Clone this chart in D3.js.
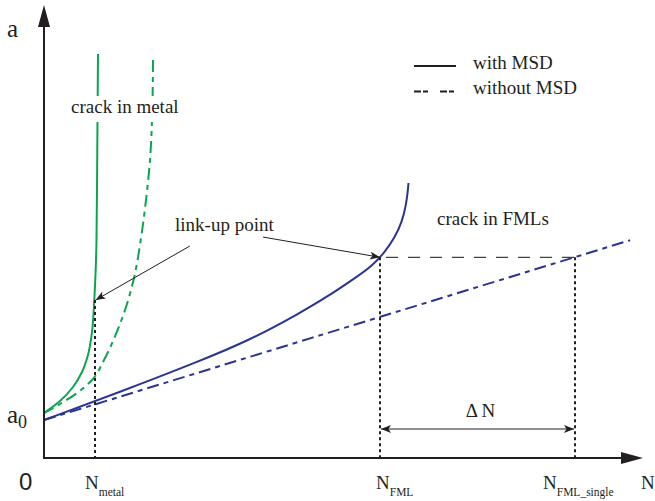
<!DOCTYPE html>
<html>
<head>
<meta charset="utf-8">
<script src="https://cdn.jsdelivr.net/npm/d3@7"></script>
<style>
  body { margin: 0; background: #fff; }
  svg { display: block; }
  text { font-family: "Liberation Serif", "Times New Roman", "DejaVu Serif", serif; fill: #231f20; }
</style>
</head>
<body>
<div id="viz"></div>
<script>
// crack length a vs. cycles N (schematic, arbitrary units 0-100)
var metalMsdN   = [0, 2.67, 4.83, 6.33, 7.33, 8.0, 8.33, 8.58, 8.75, 8.88, 9.0];
var metalMsdA   = [10, 12.67, 15.78, 19.11, 22.89, 28, 34, 40.67, 48.44, 68.44, 89.78];
var metalNoMsdN = [0, 2.67, 5.5, 8, 10, 12, 13.67, 15, 16.17, 17, 17.67, 18, 18.17];
var metalNoMsdA = [10, 12, 14.44, 17.33, 21.78, 27.56, 33.56, 40, 48.89, 57.33, 66.22, 75.11, 88.44];
var fmlMsdN     = [0, 12.67, 26, 34.33, 42.67, 47.67, 51.83, 54.67, 56.83, 58.5, 59.67, 60.33, 60.6, 60.75];
var fmlMsdA     = [8.44, 14.67, 21.56, 26.22, 32.22, 36.22, 40, 42.67, 45.78, 49.11, 52.44, 56.22, 58.9, 61.11];
var fmlNoMsdN   = [0, 50, 97.7];
var fmlNoMsdA   = [8.44, 28.9, 48.4];

var nMetal = 8.5, aMetalLink = 35.1;
var nFml = 56, nFmlSingle = 88.5, aFmlLink = 44.6;

var tickValues = [nMetal, nFml, nFmlSingle];
var tickMain = ['N', 'N', 'N'];
var tickSub = ['metal', 'FML', 'FML_single'];
var tickDx = [-10, -4, -32];   // layout offsets of the labels

var green = '#0aa550', blue = '#2a3491', ink = '#231f20';
var serif = '"Liberation Serif", "Times New Roman", "DejaVu Serif", serif';

var width = 655, height = 501;

var x = d3.scaleLinear().domain([0, 100]).range([44, 644]);
var y = d3.scaleLinear().domain([0, 100]).range([458, 8]);

var svg = d3.select('#viz').append('svg')
  .attr('width', width)
  .attr('height', height)
  .attr('font-family', serif);

var defs = svg.append('defs');
defs.append('marker')
  .attr('id', 'head')
  .attr('viewBox', '0 0 10 8')
  .attr('refX', 10).attr('refY', 4)
  .attr('markerWidth', 11).attr('markerHeight', 8)
  .attr('markerUnits', 'userSpaceOnUse')
  .attr('orient', 'auto-start-reverse')
  .append('path')
  .attr('d', 'M0,0L10,4L0,8L2.5,4Z')
  .attr('fill', ink);

function zip(ns, as) {
  return ns.map(function(n, i) { return [n, as[i]]; });
}

function makeLine(curve) {
  return d3.line()
    .x(function(d) { return x(d[0]); })
    .y(function(d) { return y(d[1]); })
    .curve(curve);
}
var lineX = makeLine(d3.curveMonotoneX);
var lineSmooth = makeLine(d3.curveBasis);
// metal curves are steep, so interpolate them along a instead
var lineY = makeLine(d3.curveMonotoneY);

var series = [
  { pts: zip(fmlNoMsdN, fmlNoMsdA), color: blue, dash: '12,5,5,5', gen: lineX },
  { pts: zip(fmlMsdN, fmlMsdA), color: blue, dash: null, gen: lineSmooth },
  { pts: zip(metalNoMsdN, metalNoMsdA).reverse(), color: green, dash: '12,5,5,5', gen: lineY },
  { pts: zip(metalMsdN, metalMsdA).reverse(), color: green, dash: null, gen: lineY }
];

svg.append('g').selectAll('path')
  .data(series)
  .enter().append('path')
    .attr('d', function(d) { return d.gen(d.pts); })
    .attr('fill', 'none')
    .attr('stroke', function(d) { return d.color; })
    .attr('stroke-width', 2)
    .attr('stroke-dasharray', function(d) { return d.dash; });

// white box behind "crack in metal" cuts the green lines
svg.append('rect')
  .attr('x', 69).attr('y', 96)
  .attr('width', 112).attr('height', 26)
  .attr('fill', '#fff');
svg.append('text')
  .attr('x', 71).attr('y', 113)
  .style('font-size', '19px')
  .text('crack in metal');

// vertical dotted guides
var guides = [[nMetal, aMetalLink], [nFml, aFmlLink], [nFmlSingle, aFmlLink]];
svg.append('g').selectAll('line')
  .data(guides)
  .enter().append('line')
    .attr('x1', function(d) { return x(d[0]); })
    .attr('x2', function(d) { return x(d[0]); })
    .attr('y1', function(d) { return y(d[1]); })
    .attr('y2', y(0) + 2)
    .attr('stroke', ink)
    .attr('stroke-width', 2)
    .attr('stroke-dasharray', '3,3');

// horizontal dashed link line
svg.append('line')
  .attr('x1', x(nFml) + 6).attr('x2', x(nFmlSingle))
  .attr('y1', y(aFmlLink)).attr('y2', y(aFmlLink))
  .attr('stroke', '#444')
  .attr('stroke-width', 1.2)
  .attr('stroke-dasharray', '12,10');

// axes
svg.append('line')
  .attr('x1', x(0)).attr('x2', x(0))
  .attr('y1', y(0) + 1).attr('y2', 27)
  .attr('stroke', ink).attr('stroke-width', 2);
svg.append('path')
  .attr('d', 'M' + x(0) + ',5L' + (x(0) - 6) + ',27L' + (x(0) + 6) + ',27Z')
  .attr('fill', ink);
svg.append('line')
  .attr('x1', x(0) - 1).attr('x2', x(100) - 22)
  .attr('y1', y(0)).attr('y2', y(0))
  .attr('stroke', ink).attr('stroke-width', 2);
svg.append('path')
  .attr('d', 'M' + (x(100) - 1) + ',' + y(0) + 'L' + (x(100) - 23) + ',' + (y(0) - 6) +
             'L' + (x(100) - 23) + ',' + (y(0) + 6) + 'Z')
  .attr('fill', ink);

// tick labels with subscripts
var ticks = svg.append('g').selectAll('text')
  .data(tickValues)
  .enter().append('text')
    .attr('x', function(d, i) { return x(d) + tickDx[i]; })
    .attr('y', 489)
    .style('font-size', '19px');
ticks.append('tspan').text(function(d, i) { return tickMain[i]; });
ticks.append('tspan')
  .attr('dy', 7)
  .style('font-size', '11.5px')
  .text(function(d, i) { return tickSub[i]; });

svg.append('text').attr('x', 641).attr('y', 489).style('font-size', '19px').text('N');
svg.append('text').attr('x', 19).attr('y', 490)
  .style('font-family', '"Liberation Sans", Arial, sans-serif')
  .style('font-size', '24px').text('0');
svg.append('text').attr('x', 7).attr('y', 37).style('font-size', '25px').text('a');
var a0 = svg.append('text').attr('x', 7).attr('y', 423).style('font-size', '25px');
a0.append('tspan').text('a');
a0.append('tspan').attr('dy', 5).style('font-size', '18px').text('0');

// link-up annotation
svg.append('text').attr('x', 175).attr('y', 231).style('font-size', '19px').text('link-up point');
var arrows = [
  [[36.5, 49.1], [nFml, aFmlLink]],
  [[24.3, 47.1], [nMetal + 0.1, aMetalLink]]
];
svg.append('g').selectAll('line')
  .data(arrows)
  .enter().append('line')
    .attr('x1', function(d) { return x(d[0][0]); })
    .attr('y1', function(d) { return y(d[0][1]); })
    .attr('x2', function(d) { return x(d[1][0]); })
    .attr('y2', function(d) { return y(d[1][1]); })
    .attr('stroke', ink)
    .attr('stroke-width', 1)
    .attr('marker-end', 'url(#head)');

svg.append('text').attr('x', 437).attr('y', 225).style('font-size', '19px').text('crack in FMLs');

// delta N
svg.append('line')
  .attr('x1', x(nFml) + 1).attr('x2', x(nFmlSingle) - 1)
  .attr('y1', 429).attr('y2', 429)
  .attr('stroke', ink).attr('stroke-width', 1)
  .attr('marker-start', 'url(#head)')
  .attr('marker-end', 'url(#head)');
svg.append('text')
  .attr('x', (x(nFml) + x(nFmlSingle)) / 2 + 3).attr('y', 417)
  .attr('text-anchor', 'middle')
  .style('font-size', '19px')
  .text('\u0394 N');

// legend
var legend = svg.append('g');
var legendItems = [['with MSD', null], ['without MSD', '7,2,5,12']];
legendItems.forEach(function(d, i) {
  legend.append('line')
    .attr('x1', 414).attr('x2', 456)
    .attr('y1', 66 + i * 25.5).attr('y2', 66 + i * 25.5)
    .attr('stroke', ink).attr('stroke-width', 2)
    .attr('stroke-dasharray', d[1]);
  legend.append('text')
    .attr('x', 473).attr('y', 69 + i * 25)
    .style('font-size', '19px')
    .text(d[0]);
});
</script>
</body>
</html>
